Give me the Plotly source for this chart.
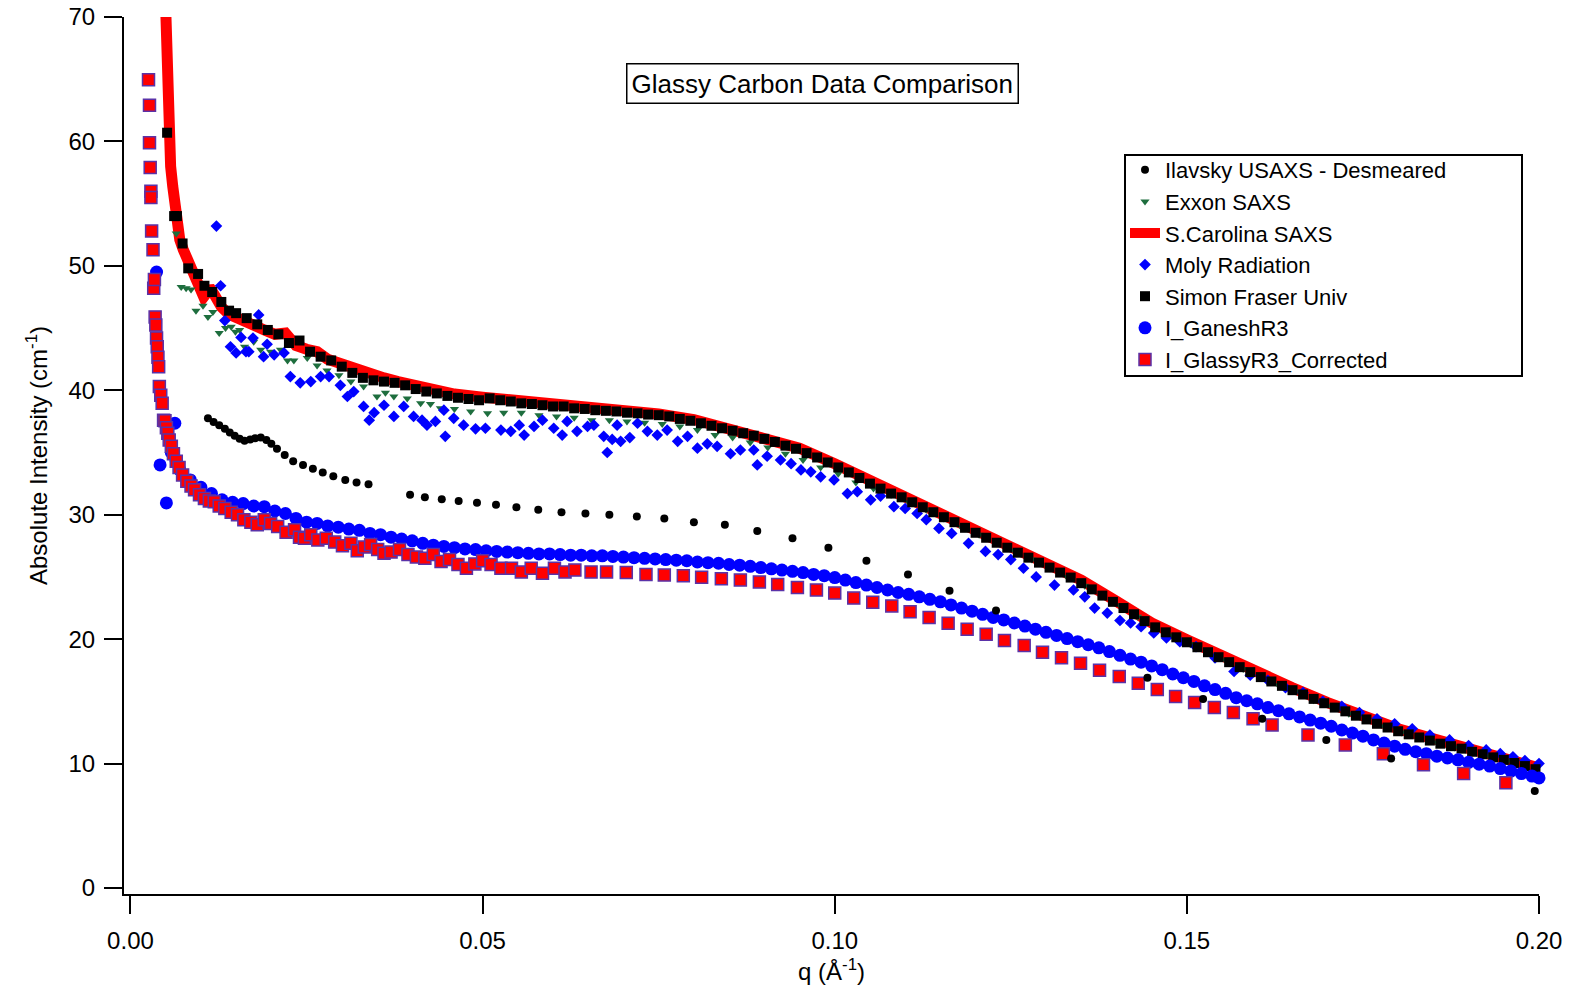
import plotly.graph_objects as go

FONT = "Liberation Sans, Arial, sans-serif"

# ---------------- data ----------------
# Ilavsky USAXS - Desmeared
q_ilavsky = [0.0110, 0.0118, 0.0126, 0.0134, 0.0141, 0.0148, 0.0155, 0.0162, 0.0170, 0.0177,
             0.0185, 0.0193, 0.0200, 0.0208, 0.0219, 0.0231, 0.0245, 0.0259, 0.0273, 0.0288,
             0.0305, 0.0321, 0.0338, 0.0397, 0.0418, 0.0442, 0.0466, 0.0492, 0.0519, 0.0548,
             0.0579, 0.0612, 0.0646, 0.0680, 0.0719, 0.0758, 0.0800, 0.0844, 0.0890, 0.0940,
             0.0991, 0.1045, 0.1104, 0.1163, 0.1229, 0.1444, 0.1523, 0.1607, 0.1698, 0.1790,
             0.1994]
I_ilavsky = [37.75, 37.45, 37.2, 36.9, 36.6, 36.35, 36.1, 35.95, 36.05, 36.15,
             36.2, 36.0, 35.7, 35.3, 34.8, 34.3, 34.0, 33.7, 33.4, 33.1,
             32.8, 32.6, 32.45, 31.6, 31.4, 31.25, 31.1, 30.97, 30.8, 30.6,
             30.4, 30.2, 30.1, 30.0, 29.85, 29.7, 29.4, 29.2, 28.7, 28.1,
             27.35, 26.3, 25.2, 23.9, 22.3, 16.9, 15.2, 13.6, 11.9, 10.4,
             7.8]

# Exxon SAXS
q_exxon = [0.0065, 0.0072, 0.0079, 0.0086, 0.0093, 0.0103, 0.0110, 0.0117, 0.0126, 0.0135,
           0.0143, 0.0149, 0.0155, 0.0162, 0.0175, 0.0185, 0.0199, 0.0213, 0.0223, 0.0232,
           0.0251, 0.0265, 0.0279, 0.0296, 0.0313, 0.0331, 0.0350, 0.0362, 0.0374, 0.0393,
           0.0412, 0.0426, 0.0440, 0.0460, 0.0483, 0.0507,
           0.0530, 0.0555, 0.0580, 0.0605, 0.0630, 0.0655, 0.0680, 0.0705, 0.0730, 0.0755,
           0.0780, 0.0805, 0.0830, 0.0855, 0.0880, 0.0905, 0.0930, 0.0955, 0.0980, 0.1005,
           0.1030, 0.1055, 0.1080, 0.1105, 0.1130, 0.1155, 0.1180, 0.1205, 0.1230, 0.1255,
           0.1280, 0.1305, 0.1330, 0.1355, 0.1380, 0.1405, 0.1430, 0.1455, 0.1480, 0.1505,
           0.1530, 0.1555, 0.1580, 0.1605, 0.1630, 0.1655, 0.1680, 0.1705, 0.1730, 0.1755,
           0.1780, 0.1805, 0.1830, 0.1855, 0.1880, 0.1905, 0.1930, 0.1955, 0.1980]
I_exxon = [52.6, 48.3, 48.2, 48.1, 46.4, 46.8, 45.9, 46.3, 44.6, 45.0,
           45.1, 44.7, 44.85, 43.5, 43.9, 43.25, 43.1, 43.25, 42.4, 42.4,
           42.6, 42.0, 41.6, 41.2, 40.7, 40.3, 39.5, 39.8, 39.5, 39.35,
           38.96, 38.9, 38.55, 38.5, 38.3, 38.15,
           38.2, 38.2, 38.0, 37.9, 37.8, 37.6, 37.6, 37.5, 37.4, 37.3,
           37.1, 36.8, 36.4, 36.2, 35.8, 35.4, 34.9, 34.4, 33.8, 33.3,
           32.6, 32.1, 31.6, 31.0, 30.4, 29.7, 29.0, 28.4, 27.7, 27.1,
           26.4, 25.7, 25.0, 24.3, 23.5, 22.7, 21.8, 20.9, 20.3, 19.6,
           18.9, 18.3, 17.6, 16.9, 16.3, 15.8, 15.1, 14.6, 14.0, 13.5,
           13.0, 12.5, 12.1, 11.7, 11.3, 10.9, 10.6, 10.2, 9.8]

# S.Carolina SAXS (drawn as a thick line)
q_carolina = [0.0049, 0.0053, 0.0057, 0.0060, 0.0065, 0.0070, 0.0075, 0.0080, 0.0088, 0.0096,
              0.0100, 0.0104, 0.0108, 0.0112, 0.0120, 0.0129, 0.0140, 0.0150, 0.0160, 0.0171,
              0.0180, 0.0190, 0.0205, 0.0220, 0.0235, 0.0250, 0.0265, 0.0280, 0.0300, 0.0320,
              0.0340, 0.0360, 0.0380, 0.0400, 0.0430, 0.0460, 0.0500, 0.0550, 0.0600, 0.0650,
              0.0700, 0.0750, 0.0800, 0.0850, 0.0900, 0.0950, 0.1000, 0.1050, 0.1100, 0.1150,
              0.1200, 0.1250, 0.1300, 0.1350, 0.1400, 0.1450, 0.1500, 0.1550, 0.1600, 0.1650,
              0.1700, 0.1750, 0.1800, 0.1850, 0.1900, 0.1950, 0.2000]
I_carolina = [72.5, 60.7, 58.0, 56.4, 54.0, 52.1, 51.3, 50.7, 49.9, 48.9,
              48.2, 47.5, 47.8, 48.3, 47.6, 46.7, 46.1, 45.9, 45.6, 45.4,
              45.1, 44.85, 44.5, 44.6, 43.6, 43.3, 43.1, 42.5, 42.1, 41.6,
              41.3, 41.0, 40.7, 40.4, 40.0, 39.7, 39.45, 39.2, 38.85, 38.6,
              38.35, 38.1, 37.65, 36.95, 36.25, 35.35, 34.1, 32.75, 31.5, 30.1,
              28.75, 27.45, 26.15, 24.75, 23.05, 21.3, 19.95, 18.6, 17.3, 16.1,
              14.9, 13.8, 12.8, 12.0, 11.2, 10.45, 9.65]

# Moly Radiation
q_moly = [0.0122, 0.0128, 0.0134, 0.0142, 0.0150, 0.0157, 0.0164, 0.0168, 0.0174, 0.0182,
          0.0189, 0.0194, 0.0204, 0.0218, 0.0227, 0.0241, 0.0256, 0.0270, 0.0282, 0.0298,
          0.0308, 0.0317, 0.0331, 0.0339, 0.0346, 0.0360, 0.0374, 0.0388, 0.0402, 0.0414,
          0.0421, 0.0433, 0.0445, 0.0447, 0.0459, 0.0473, 0.0490, 0.0504, 0.0526, 0.0540,
          0.0552, 0.0559, 0.0573, 0.0585, 0.0601, 0.0613, 0.0620, 0.0634, 0.0649, 0.0658,
          0.0672, 0.0677, 0.0684, 0.0691, 0.0696, 0.0709, 0.0720, 0.0734, 0.0748, 0.0762,
          0.0777, 0.0791, 0.0805, 0.0819, 0.0833, 0.0852, 0.0866, 0.0885, 0.0890, 0.0904,
          0.0923, 0.0938, 0.0952, 0.0966, 0.0980, 0.0999, 0.1018, 0.1032, 0.1051, 0.1065,
          0.1084, 0.1100, 0.1117, 0.1130, 0.1148, 0.1166, 0.1190, 0.1214, 0.1232, 0.1250,
          0.1268, 0.1286, 0.1312, 0.1339, 0.1355, 0.1369, 0.1387, 0.1405, 0.1420, 0.1435,
          0.1453, 0.1471, 0.1490, 0.1513, 0.1540, 0.1567, 0.1590, 0.1615, 0.1640, 0.1665,
          0.1693, 0.1720, 0.1745, 0.1770, 0.1795, 0.1820, 0.1845, 0.1873, 0.1900, 0.1925,
          0.1945, 0.1963, 0.1980, 0.2000]
I_moly = [53.2, 48.4, 45.6, 43.5, 43.0, 44.25, 43.1, 43.1, 44.2, 46.06,
          42.7, 43.7, 42.85, 43.0, 41.1, 40.6, 40.7, 41.1, 41.1, 40.4,
          39.5, 39.9, 38.7, 37.6, 38.2, 38.8, 37.9, 38.7, 37.9, 37.6,
          37.2, 37.5, 38.4, 36.3, 37.75, 37.2, 36.9, 36.95, 36.8, 36.7,
          37.2, 36.4, 37.1, 37.6, 36.95, 36.4, 37.5, 36.7, 37.1, 37.2,
          36.3, 35.0, 36.05, 37.2, 35.9, 36.2, 37.35, 36.7, 36.4, 36.8,
          35.9, 36.3, 35.35, 35.7, 35.5, 34.9, 35.2, 35.2, 34.0, 34.7,
          34.4, 34.1, 33.6, 33.45, 33.05, 32.8, 31.7, 31.85, 31.2, 31.5,
          30.65, 30.5, 30.1, 29.6, 28.9, 28.5, 27.7, 27.05, 26.8, 26.4,
          25.7, 25.0, 24.35, 23.95, 23.4, 22.5, 22.1, 21.5, 21.3, 21.0,
          20.5, 20.1, 19.8, 19.4, 18.5, 17.4, 17.1, 16.7, 16.1, 15.7,
          15.0, 14.6, 14.1, 13.6, 13.2, 12.8, 12.3, 11.9, 11.45, 11.1,
          10.8, 10.55, 10.25, 10.0]

# Simon Fraser Univ
q_fraser = [0.0052, 0.0062, 0.0066, 0.0074, 0.0082, 0.0096, 0.0105, 0.0116, 0.0129, 0.0140,
            0.0150, 0.0165, 0.0180, 0.0195, 0.0210, 0.0225, 0.0240, 0.0255, 0.0270, 0.0285,
            0.0300, 0.0315, 0.0330, 0.0345, 0.0360, 0.0375, 0.0390, 0.0405, 0.0420, 0.0435,
            0.0450, 0.0465, 0.0480, 0.0495, 0.0510, 0.0525, 0.0540, 0.0555, 0.0570, 0.0585,
            0.0600, 0.0615, 0.0630, 0.0645, 0.0660, 0.0675, 0.0690, 0.0705, 0.0720, 0.0735,
            0.0750, 0.0765, 0.0780, 0.0795, 0.0810, 0.0825, 0.0840, 0.0855, 0.0870, 0.0885,
            0.0900, 0.0915, 0.0930, 0.0945, 0.0960, 0.0975, 0.0990, 0.1005, 0.1020, 0.1035,
            0.1050, 0.1065, 0.1080, 0.1095, 0.1110, 0.1125, 0.1140, 0.1155, 0.1170, 0.1185,
            0.1200, 0.1215, 0.1230, 0.1245, 0.1260, 0.1275, 0.1290, 0.1305, 0.1320, 0.1335,
            0.1350, 0.1365, 0.1380, 0.1395, 0.1410, 0.1425, 0.1440, 0.1455, 0.1470, 0.1485,
            0.1500, 0.1515, 0.1530, 0.1545, 0.1560, 0.1575, 0.1590, 0.1605, 0.1620, 0.1635,
            0.1650, 0.1665, 0.1680, 0.1695, 0.1710, 0.1725, 0.1740, 0.1755, 0.1770, 0.1785,
            0.1800, 0.1815, 0.1830, 0.1845, 0.1860, 0.1875, 0.1890, 0.1905, 0.1920, 0.1935,
            0.1950, 0.1965, 0.1980, 0.1995]
I_fraser = [60.7, 54.0, 54.0, 51.8, 49.8, 49.35, 48.4, 47.9, 47.1, 46.4,
            46.2, 45.8, 45.3, 44.85, 44.5, 43.8, 44.0, 43.1, 42.7, 42.4,
            41.9, 41.4, 41.0, 40.8, 40.7, 40.6, 40.4, 40.1, 39.9, 39.75,
            39.55, 39.4, 39.3, 39.2, 39.35, 39.2, 39.1, 38.95, 38.9, 38.8,
            38.7, 38.7, 38.55, 38.5, 38.4, 38.35, 38.3, 38.2, 38.15, 38.05,
            38.0, 37.9, 37.7, 37.55, 37.35, 37.15, 36.95, 36.75, 36.55, 36.35,
            36.1, 35.85, 35.55, 35.3, 34.95, 34.6, 34.2, 33.8, 33.4, 32.95,
            32.5, 32.1, 31.7, 31.4, 31.0, 30.6, 30.2, 29.8, 29.4, 28.95,
            28.55, 28.15, 27.75, 27.35, 26.95, 26.55, 26.15, 25.75, 25.35, 24.95,
            24.5, 24.0, 23.5, 23.0, 22.5, 22.0, 21.45, 20.95, 20.55, 20.15,
            19.75, 19.35, 18.95, 18.55, 18.15, 17.75, 17.35, 16.95, 16.6, 16.25,
            15.9, 15.55, 15.2, 14.85, 14.5, 14.2, 13.85, 13.55, 13.2, 12.9,
            12.6, 12.35, 12.1, 11.85, 11.6, 11.4, 11.2, 10.95, 10.75, 10.5,
            10.3, 10.05, 9.8, 9.55]

# I_GaneshR3
q_ganesh = [0.0037, 0.0042, 0.0051, 0.0058, 0.0063, 0.0065,
            0.0070, 0.0085, 0.0100, 0.0115, 0.0130, 0.0145, 0.0160, 0.0175, 0.0190, 0.0205,
            0.0220, 0.0235, 0.0250, 0.0265, 0.0280, 0.0295, 0.0310, 0.0325, 0.0340, 0.0355,
            0.0370, 0.0385, 0.0400, 0.0415, 0.0430, 0.0445, 0.0460, 0.0475, 0.0490, 0.0505,
            0.0520, 0.0535, 0.0550, 0.0565, 0.0580, 0.0595, 0.0610, 0.0625, 0.0640, 0.0655,
            0.0670, 0.0685, 0.0700, 0.0715, 0.0730, 0.0745, 0.0760, 0.0775, 0.0790, 0.0805,
            0.0820, 0.0835, 0.0850, 0.0865, 0.0880, 0.0895, 0.0910, 0.0925, 0.0940, 0.0955,
            0.0970, 0.0985, 0.1000, 0.1015, 0.1030, 0.1045, 0.1060, 0.1075, 0.1090, 0.1105,
            0.1120, 0.1135, 0.1150, 0.1165, 0.1180, 0.1195, 0.1210, 0.1225, 0.1240, 0.1255,
            0.1270, 0.1285, 0.1300, 0.1315, 0.1330, 0.1345, 0.1360, 0.1375, 0.1390, 0.1405,
            0.1420, 0.1435, 0.1450, 0.1465, 0.1480, 0.1495, 0.1510, 0.1525, 0.1540, 0.1555,
            0.1570, 0.1585, 0.1600, 0.1615, 0.1630, 0.1645, 0.1660, 0.1675, 0.1690, 0.1705,
            0.1720, 0.1735, 0.1750, 0.1765, 0.1780, 0.1795, 0.1810, 0.1825, 0.1840, 0.1855,
            0.1870, 0.1885, 0.1900, 0.1915, 0.1930, 0.1945, 0.1960, 0.1975, 0.1990, 0.2000]
I_ganesh = [49.5, 34.0, 30.95, 35.0, 37.35, 34.3,
            33.6, 32.8, 32.2, 31.7, 31.2, 31.0, 30.9, 30.7, 30.65, 30.3,
            30.1, 29.7, 29.4, 29.3, 29.1, 29.0, 28.85, 28.75, 28.5, 28.4,
            28.2, 28.05, 27.9, 27.7, 27.55, 27.45, 27.35, 27.25, 27.2, 27.1,
            27.05, 27.0, 26.95, 26.9, 26.85, 26.85, 26.8, 26.75, 26.75, 26.7,
            26.7, 26.65, 26.6, 26.55, 26.5, 26.45, 26.4, 26.35, 26.3, 26.2,
            26.15, 26.1, 26.0, 25.95, 25.85, 25.75, 25.65, 25.55, 25.45, 25.35,
            25.2, 25.1, 24.95, 24.75, 24.55, 24.35, 24.15, 23.95, 23.75, 23.6,
            23.4, 23.2, 23.0, 22.75, 22.5, 22.25, 22.0, 21.75, 21.55, 21.3,
            21.05, 20.8, 20.55, 20.3, 20.05, 19.8, 19.55, 19.3, 19.0, 18.7,
            18.4, 18.15, 17.85, 17.55, 17.2, 16.9, 16.6, 16.25, 15.95, 15.65,
            15.3, 15.05, 14.8, 14.5, 14.25, 14.0, 13.75, 13.5, 13.25, 13.0,
            12.7, 12.45, 12.2, 11.9, 11.65, 11.4, 11.15, 10.95, 10.8, 10.6,
            10.45, 10.3, 10.1, 9.95, 9.8, 9.6, 9.4, 9.2, 9.0, 8.85]

# I_GlassyR3_Corrected
q_glassy = [0.00256, 0.0027, 0.0027, 0.0028, 0.0029, 0.0029, 0.0030, 0.0032, 0.0033, 0.0034,
            0.0035, 0.0036, 0.0037, 0.0038, 0.0039, 0.0040, 0.0041, 0.0043, 0.0045, 0.0047,
            0.0049, 0.0051, 0.0053, 0.0055, 0.0058, 0.0061, 0.0065, 0.0069, 0.0074, 0.0080,
            0.0086, 0.0091, 0.0098, 0.0105, 0.0112, 0.0119, 0.0126, 0.0134, 0.0143, 0.0152,
            0.0161, 0.0171, 0.0180, 0.0190, 0.0199, 0.0209, 0.0221, 0.0233, 0.0240, 0.0247,
            0.0256, 0.0266, 0.0278, 0.0290, 0.0301, 0.0313, 0.0322, 0.0332, 0.0341, 0.0351,
            0.0360, 0.0370, 0.0382, 0.0394, 0.0406, 0.0418, 0.0430, 0.0441, 0.0453, 0.0465,
            0.0477, 0.0489, 0.0500, 0.0512, 0.0526, 0.0541, 0.0555, 0.0569, 0.0585, 0.0602,
            0.0617, 0.0631, 0.0654,
            0.0676, 0.0704, 0.0732, 0.0758, 0.0785, 0.0811, 0.0839, 0.0866, 0.0893, 0.0919,
            0.0947, 0.0974, 0.1000, 0.1027, 0.1054, 0.1081, 0.1107, 0.1134, 0.1161, 0.1188,
            0.1215, 0.1241, 0.1269, 0.1295, 0.1322, 0.1349, 0.1376, 0.1404, 0.1431, 0.1458,
            0.1484, 0.1511, 0.1539, 0.1566, 0.1594, 0.1621, 0.1672, 0.1725, 0.1779, 0.1836,
            0.1893, 0.1953]
I_glassy = [64.95, 62.9, 59.9, 57.9, 56.0, 55.5, 52.8, 51.3, 48.2, 48.9,
            45.9, 45.25, 44.2, 43.5, 42.65, 41.9, 40.3, 39.6, 38.96, 37.6,
            37.55, 37.0, 36.55, 36.0, 35.5, 34.9, 34.3, 33.8, 33.2, 32.7,
            32.3, 32.0, 31.6, 31.3, 31.1, 31.05, 30.7, 30.5, 30.2, 30.0,
            29.6, 29.4, 29.2, 29.6, 29.3, 29.05, 28.6, 28.8, 28.2, 28.1,
            28.4, 27.97, 28.1, 27.8, 27.5, 27.7, 27.1, 27.4, 27.6, 27.2,
            26.9, 27.0, 27.2, 26.8, 26.6, 26.5, 26.8, 26.25, 26.4, 26.0,
            25.7, 26.05, 26.3, 26.0, 25.7, 25.7, 25.4, 25.7, 25.3, 25.7,
            25.4, 25.55, 25.4,
            25.4, 25.35, 25.2, 25.15, 25.1, 24.97, 24.86, 24.76, 24.6, 24.4,
            24.16, 23.95, 23.7, 23.3, 22.96, 22.67, 22.2, 21.75, 21.27, 20.8,
            20.4, 19.9, 19.5, 18.95, 18.5, 18.06, 17.5, 17.0, 16.45, 15.96,
            15.4, 14.9, 14.5, 14.1, 13.6, 13.1, 12.3, 11.5, 10.8, 9.9,
            9.2, 8.46]

# axes
x_tick_vals = [0.00, 0.05, 0.10, 0.15, 0.20]
x_tick_text = ["0.00", "0.05", "0.10", "0.15", "0.20"]
y_tick_vals = [0, 10, 20, 30, 40, 50, 60, 70]

# ---------------- figure ----------------
fig = go.Figure()

fig.add_trace(go.Scatter(x=q_carolina, y=I_carolina, mode="lines", name="S.Carolina SAXS",
                         line=dict(color="#ff0000", width=11), legendrank=3))
fig.add_trace(go.Scatter(x=q_exxon, y=I_exxon, mode="markers", name="Exxon SAXS",
                         marker=dict(symbol="triangle-down", size=8, color="#1e6e3e"),
                         cliponaxis=False, legendrank=2))
fig.add_trace(go.Scatter(x=q_moly, y=I_moly, mode="markers", name="Moly Radiation",
                         marker=dict(symbol="diamond", size=9, color="#0000ff"),
                         cliponaxis=False, legendrank=4))
fig.add_trace(go.Scatter(x=q_fraser, y=I_fraser, mode="markers", name="Simon Fraser Univ",
                         marker=dict(symbol="square", size=10, color="#000000"),
                         cliponaxis=False, legendrank=5))
fig.add_trace(go.Scatter(x=q_ganesh, y=I_ganesh, mode="markers", name="I_GaneshR3",
                         marker=dict(symbol="circle", size=13, color="#0000ff"),
                         cliponaxis=False, legendrank=6))
fig.add_trace(go.Scatter(x=q_glassy, y=I_glassy, mode="markers", name="I_GlassyR3_Corrected",
                         marker=dict(symbol="square", size=12, color="#ff0000",
                                     line=dict(color="#5a32a8", width=1.5)),
                         cliponaxis=False, legendrank=7))
fig.add_trace(go.Scatter(x=q_ilavsky, y=I_ilavsky, mode="markers", name="Ilavsky USAXS - Desmeared",
                         marker=dict(symbol="circle", size=8, color="#000000"),
                         cliponaxis=False, legendrank=1))

W, H = 1593, 993
L, R, T, B = 124, 54, 17, 99
pw, ph = W - L - R, H - T - B


def px_x(x):
    return (x - L) / pw


def px_y(y):
    return (H - B - y) / ph


axis_common = dict(showline=True, linecolor="black", linewidth=2, ticks="outside",
                   ticklen=18, tickwidth=2, tickcolor="black", showgrid=False,
                   zeroline=False, automargin=False, mirror=False,
                   tickfont=dict(family=FONT, size=24, color="black"))

fig.update_layout(
    width=W, height=H,
    margin=dict(l=L, r=R, t=T, b=B, pad=0),
    paper_bgcolor="white", plot_bgcolor="white",
    font=dict(family=FONT, color="black"),
    xaxis=dict(range=[-0.00092, 0.2], tickvals=x_tick_vals, ticktext=x_tick_text,
               title=dict(text="q (Å<sup>-1</sup>)", font=dict(family=FONT, size=24), standoff=10),
               ticklabelstandoff=6, **axis_common),
    yaxis=dict(range=[-0.48, 70], tickvals=y_tick_vals,
               title=dict(text="Absolute Intensity (cm<sup>-1</sup>)", font=dict(family=FONT, size=24),
                          standoff=14),
               ticklabelstandoff=4, **axis_common),
    legend=dict(x=px_x(1125), xanchor="left", y=px_y(149), yanchor="top",
                bgcolor="rgba(0,0,0,0)", borderwidth=0, tracegroupgap=0,
                font=dict(family=FONT, size=22, color="black")),
    shapes=[dict(type="rect", xref="paper", yref="paper",
                 x0=px_x(1125), x1=px_x(1522), y0=px_y(376), y1=px_y(155),
                 line=dict(color="black", width=2), fillcolor="rgba(0,0,0,0)", layer="above")],
    annotations=[dict(text="Glassy Carbon Data Comparison", xref="paper", yref="paper",
                      x=px_x(822), y=px_y(83), xanchor="center", yanchor="middle",
                      showarrow=False, font=dict(family=FONT, size=26, color="black"),
                      bordercolor="black", borderwidth=1.5, borderpad=4, bgcolor="white")],
)

fig.write_html("out.html", config={"displayModeBar": False},
               post_script="document.body.style.margin='0';document.body.style.overflow='hidden';")
